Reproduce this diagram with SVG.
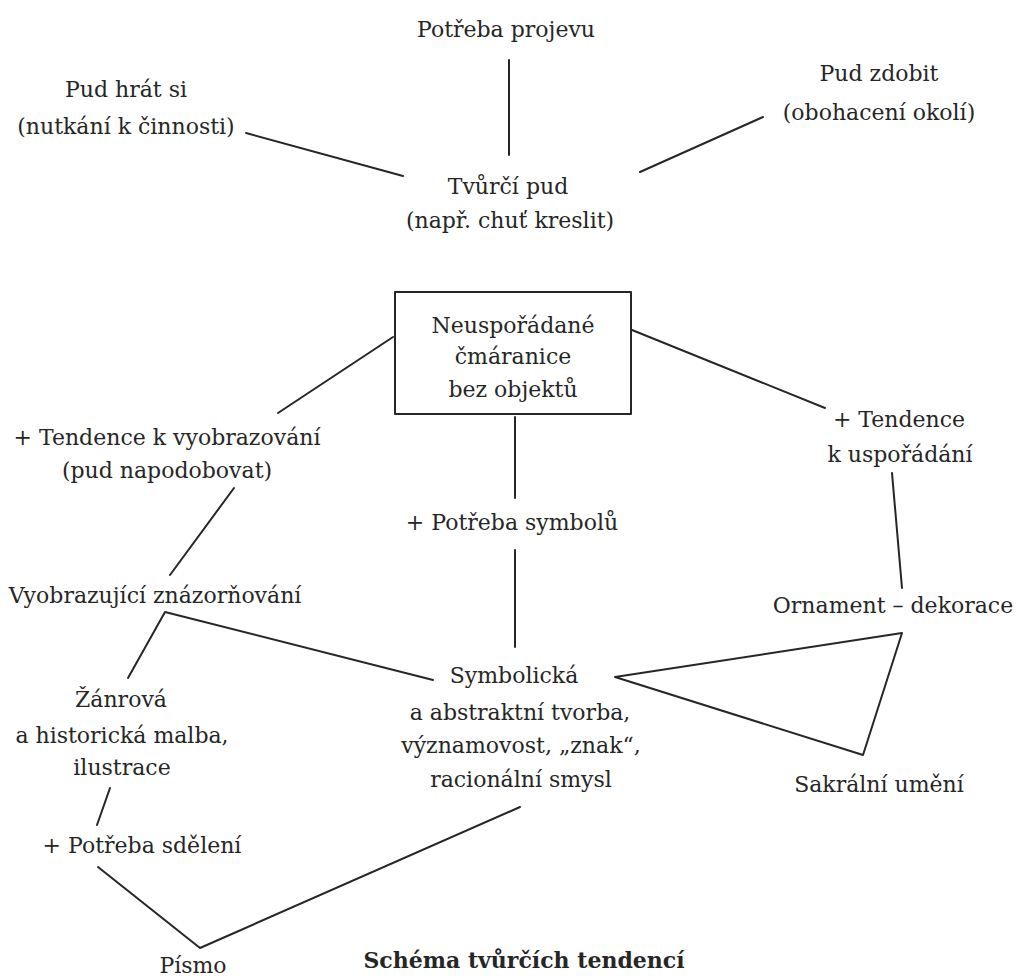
<svg xmlns="http://www.w3.org/2000/svg" width="1027" height="978" viewBox="0 0 1027 978">
<style>
text{font-family:"DejaVu Serif","Liberation Serif",serif;font-size:22px;fill:#262626;text-anchor:middle}
.t{font-weight:bold;font-size:22px}
.c{stroke:#262626;stroke-width:2;fill:none;stroke-linecap:round;stroke-linejoin:round}
</style>
<rect width="1027" height="978" fill="#fff"/>
<g id="connectors" class="c">
<line x1="509" y1="60" x2="509" y2="155"/>
<line x1="246" y1="133" x2="403" y2="176"/>
<line x1="763" y1="117" x2="640" y2="172"/>
<line x1="393" y1="337" x2="278" y2="413"/>
<line x1="632" y1="330" x2="825" y2="408"/>
<line x1="515" y1="417" x2="515" y2="498"/>
<line x1="515" y1="550" x2="515" y2="647"/>
<line x1="234" y1="488" x2="170" y2="575"/>
<line x1="892" y1="473" x2="902" y2="588"/>
<polyline points="128,678 165,612 433,680"/>
<polygon points="615,677 902,633 863,755"/>
<line x1="110" y1="788" x2="97" y2="825"/>
<polyline points="98,867 200,948 520,807"/>
</g>
<g id="potreba-projevu"><text x="506" y="37">Potřeba projevu</text></g>
<g id="pud-hrat"><text x="126" y="97">Pud hrát si</text><text x="126" y="134">(nutkání k činnosti)</text></g>
<g id="pud-zdobit"><text x="879" y="81">Pud zdobit</text><text x="879" y="120">(obohacení okolí)</text></g>
<g id="tvurci-pud"><text x="508" y="194">Tvůrčí pud</text><text x="510" y="228">(např. chuť kreslit)</text></g>
<g id="cmaranice"><rect x="395" y="292" width="236" height="122" class="c"/><text x="513" y="333">Neuspořádané</text><text x="513" y="364">čmáranice</text><text x="513" y="397">bez objektů</text></g>
<g id="tendence-vyobrazovani"><text x="167" y="445">+ Tendence k vyobrazování</text><text x="167" y="478">(pud napodobovat)</text></g>
<g id="potreba-symbolu"><text x="512" y="530">+ Potřeba symbolů</text></g>
<g id="tendence-usporadani"><text x="899" y="427">+ Tendence</text><text x="900" y="462">k uspořádání</text></g>
<g id="vyobrazujici"><text x="155" y="603">Vyobrazující znázorňování</text></g>
<g id="ornament"><text x="893" y="613">Ornament – dekorace</text></g>
<g id="symbolicka"><text x="514" y="683">Symbolická</text><text x="520" y="720">a abstraktní tvorba,</text><text x="521" y="753">významovost, „znak“,</text><text x="521" y="787">racionální smysl</text></g>
<g id="zanrova"><text x="121" y="707">Žánrová</text><text x="122" y="743">a historická malba,</text><text x="122" y="775">ilustrace</text></g>
<g id="sakralni"><text x="879" y="792">Sakrální umění</text></g>
<g id="potreba-sdeleni"><text x="142" y="853">+ Potřeba sdělení</text></g>
<g id="pismo"><text x="193" y="973">Písmo</text></g>
<g id="title"><text class="t" x="524" y="968">Schéma tvůrčích tendencí</text></g>
</svg>
